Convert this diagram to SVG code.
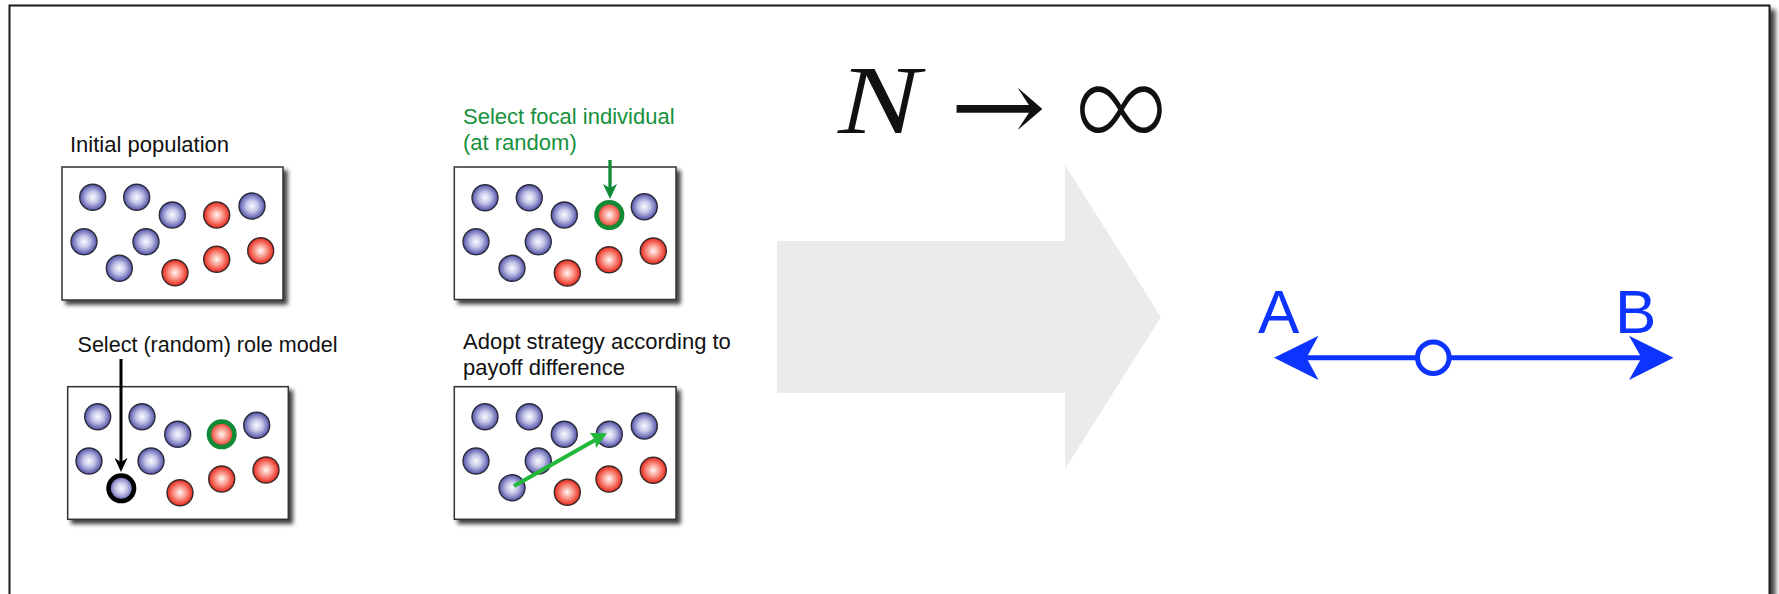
<svg xmlns="http://www.w3.org/2000/svg" width="1779" height="594" viewBox="0 0 1779 594">
<defs>
<radialGradient id="gb" cx="50%" cy="50%" r="50%">
<stop offset="0" stop-color="#fbfbff"/>
<stop offset="0.45" stop-color="#c4c4e8"/>
<stop offset="1" stop-color="#5252a8"/>
</radialGradient>
<radialGradient id="gr" cx="50%" cy="50%" r="50%">
<stop offset="0" stop-color="#fff8f6"/>
<stop offset="0.45" stop-color="#fa9c90"/>
<stop offset="1" stop-color="#e8281a"/>
</radialGradient>
<filter id="sh" x="-10%" y="-10%" width="125%" height="130%">
<feDropShadow dx="4" dy="4" stdDeviation="2" flood-color="#000" flood-opacity="0.75"/>
</filter>
<filter id="shf" x="-2%" y="-5%" width="105%" height="115%">
<feDropShadow dx="5" dy="5" stdDeviation="2.5" flood-color="#000" flood-opacity="0.75"/>
</filter>
</defs>
<style>
.box{fill:#fff;stroke:#333;stroke-width:1.5}
.b{fill:url(#gb);stroke:#2c2c3c;stroke-width:1.4}
.r{fill:url(#gr);stroke:#3a2a2a;stroke-width:1.4}
.ring-g{stroke:#118a36;stroke-width:4.5}
.ring-k{stroke:#000;stroke-width:4.5}
.t{font-family:"Liberation Sans",Arial,sans-serif;font-size:22px;fill:#111}
.tg{fill:#16903c}
.m{font-family:"Liberation Serif","DejaVu Serif",serif;fill:#111}
</style>
<rect x="9.5" y="5.5" width="1760" height="620" fill="#fff" stroke="#1a1a1a" stroke-width="2" filter="url(#shf)"/>

<g id="panel-initial">
<text class="t" x="70" y="152">Initial population</text>
<rect class="box" x="62" y="167" width="221" height="133" filter="url(#sh)"/>
<circle class="b" cx="92.7" cy="197.3" r="13"/>
<circle class="b" cx="136.7" cy="197.3" r="13"/>
<circle class="b" cx="172.3" cy="215" r="13"/>
<circle class="r" cx="216.7" cy="215" r="13"/>
<circle class="b" cx="252" cy="206" r="13"/>
<circle class="b" cx="84" cy="241.7" r="13"/>
<circle class="b" cx="146" cy="241.7" r="13"/>
<circle class="b" cx="119.3" cy="268.3" r="13"/>
<circle class="r" cx="175" cy="272.7" r="13"/>
<circle class="r" cx="216.7" cy="259.3" r="13"/>
<circle class="r" cx="260.7" cy="250.7" r="13"/>
</g>

<g id="panel-focal">
<text class="t tg" x="463" y="124">Select focal individual</text>
<text class="t tg" x="463" y="150">(at random)</text>
<rect class="box" x="454.3" y="167" width="221.7" height="132.5" filter="url(#sh)"/>
<circle class="b" cx="485" cy="197.7" r="13"/>
<circle class="b" cx="529.3" cy="197.7" r="13"/>
<circle class="b" cx="564.3" cy="215" r="13"/>
<circle class="r ring-g" cx="609.3" cy="215" r="12.8"/>
<circle class="b" cx="644.3" cy="206.7" r="13"/>
<circle class="b" cx="476" cy="241.7" r="13"/>
<circle class="b" cx="538.3" cy="241.7" r="13"/>
<circle class="b" cx="512" cy="268.3" r="13"/>
<circle class="r" cx="567.3" cy="273" r="13"/>
<circle class="r" cx="609" cy="259.7" r="13"/>
<circle class="r" cx="653.3" cy="251" r="13"/>
</g>

<g id="panel-role">
<text class="t" x="77.5" y="352" textLength="260" lengthAdjust="spacingAndGlyphs">Select (random) role model</text>
<rect class="box" x="67.7" y="386.7" width="220.6" height="132.6" filter="url(#sh)"/>
<circle class="b" cx="97.7" cy="416.7" r="13"/>
<circle class="b" cx="142" cy="416.7" r="13"/>
<circle class="b" cx="177.7" cy="434.3" r="13"/>
<circle class="r ring-g" cx="221.7" cy="434.3" r="12.8"/>
<circle class="b" cx="256.7" cy="425.3" r="13"/>
<circle class="b" cx="89" cy="461" r="13"/>
<circle class="b" cx="151" cy="461" r="13"/>
<circle class="b ring-k" cx="121.3" cy="488.3" r="12.8"/>
<circle class="r" cx="180" cy="492.7" r="13"/>
<circle class="r" cx="221.7" cy="479" r="13"/>
<circle class="r" cx="266" cy="470" r="13"/>
</g>

<g id="panel-adopt">
<text class="t" x="463" y="349">Adopt strategy according to</text>
<text class="t" x="463" y="375">payoff difference</text>
<rect class="box" x="454.3" y="386.7" width="221.7" height="132.6" filter="url(#sh)"/>
<circle class="b" cx="485" cy="416.7" r="13"/>
<circle class="b" cx="529.3" cy="416.7" r="13"/>
<circle class="b" cx="564.3" cy="434.3" r="13"/>
<circle class="b" cx="609.3" cy="434.3" r="13"/>
<circle class="b" cx="644.3" cy="426" r="13"/>
<circle class="b" cx="476" cy="461" r="13"/>
<circle class="b" cx="538.3" cy="461" r="13"/>
<circle class="b" cx="512" cy="487.7" r="13"/>
<circle class="r" cx="567.3" cy="492.3" r="13"/>
<circle class="r" cx="609" cy="479" r="13"/>
<circle class="r" cx="653.3" cy="470.3" r="13"/>
</g>

<g id="connectors">
<line x1="610" y1="160" x2="610" y2="189" stroke="#118a36" stroke-width="3.3"/>
<polygon points="610,199 603,184 610,188 617,184" fill="#118a36"/>
<line x1="121" y1="359" x2="121" y2="462" stroke="#000" stroke-width="3"/>
<polygon points="121,472 114.5,458 121,462 127.5,458" fill="#000"/>
<line x1="514" y1="486" x2="597" y2="439" stroke="#22b83a" stroke-width="4"/>
<polygon points="607,433.3 590,433 595,440 596,448" fill="#22b83a"/>
</g>

<g id="big-arrow">
<polygon points="777,241 1065,241 1065,165 1161,317 1065,469 1065,393 777,393" fill="#ebebeb"/>
</g>

<g id="limit">
<text class="m" x="838" y="133" font-style="italic" font-size="98" textLength="82" lengthAdjust="spacingAndGlyphs">N</text>
<text transform="translate(950,141) scale(1.15,1)" x="0" y="0" font-family="'DejaVu Serif',serif" font-size="100" fill="#111">→</text>
<text x="1074" y="150" font-family="Inter,'DejaVu Sans',sans-serif" font-weight="250" font-size="130" textLength="94" lengthAdjust="spacingAndGlyphs" fill="#111">∞</text>
</g>

<g id="line-AB">
<text x="1258" y="333" font-family="'Liberation Sans',Arial,sans-serif" font-size="62" fill="#0d33ff">A</text>
<text x="1615" y="333" font-family="'Liberation Sans',Arial,sans-serif" font-size="62" fill="#0d33ff">B</text>
<line x1="1305" y1="357.7" x2="1645" y2="357.7" stroke="#0d33ff" stroke-width="5"/>
<polygon points="1274,357.7 1318.5,335.7 1306.5,357.7 1318.5,380" fill="#0d33ff"/>
<polygon points="1673.5,357.7 1629,335.7 1641.5,357.7 1629,380" fill="#0d33ff"/>
<circle cx="1433.3" cy="357.7" r="15.8" fill="#fff" stroke="#0d33ff" stroke-width="5"/>
</g>
</svg>
